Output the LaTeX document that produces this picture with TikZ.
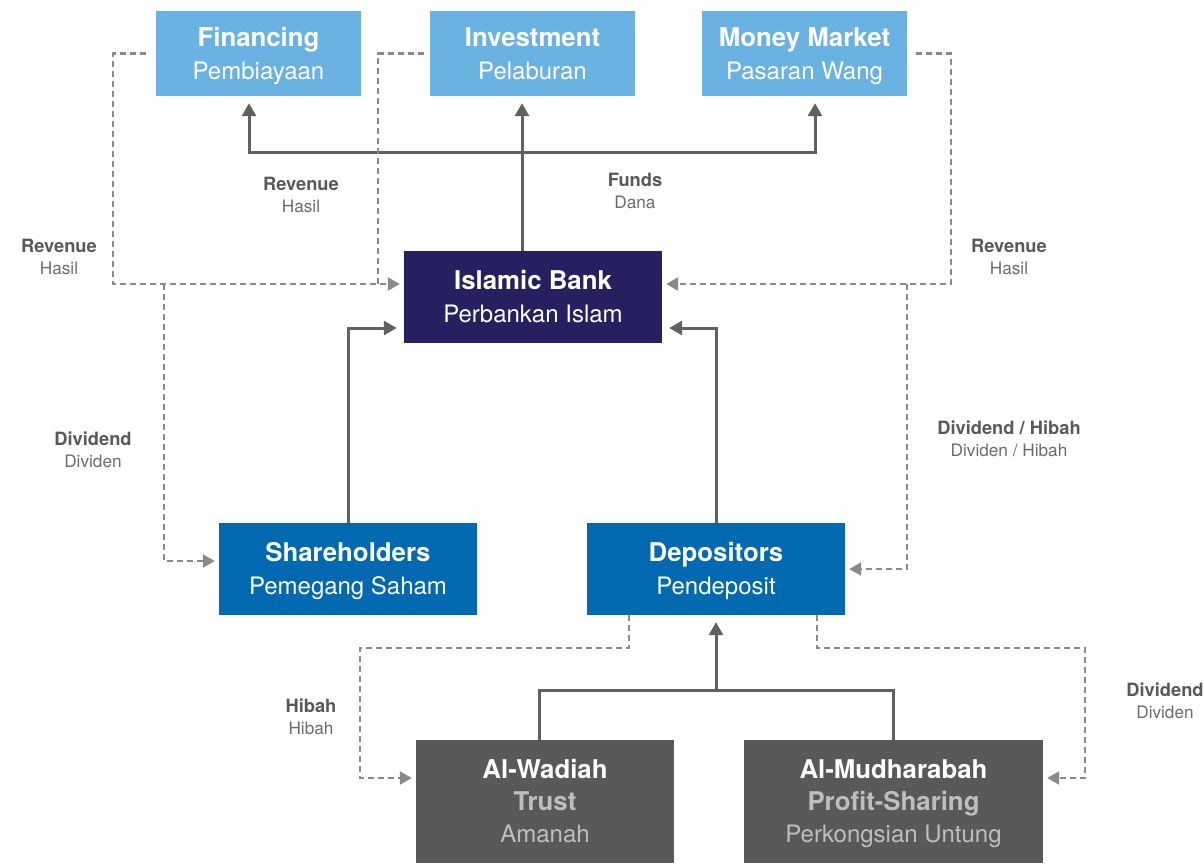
\documentclass[tikz,border=0pt]{standalone}
\usepackage{fontspec}
\setmainfont{TeX Gyre Heros}
\usetikzlibrary{arrows.meta}
\definecolor{lblue}{HTML}{6AB2E1}
\definecolor{navy}{HTML}{272060}
\definecolor{mblue}{HTML}{0069B0}
\definecolor{dgray}{HTML}{58595B}
\definecolor{lgtxt}{HTML}{BDBEC0}
\definecolor{arrgray}{HTML}{616161}
\definecolor{dashgray}{HTML}{8A8A8A}
\definecolor{lblA}{HTML}{595959}
\definecolor{lblB}{HTML}{6B6B6B}
\newcommand{\topstrut}{\rule{0pt}{24pt}}
\newcommand{\botstrut}{\rule[-6pt]{0pt}{6pt}}
\newcommand{\bt}[1]{{\fontsize{25.8}{33}\selectfont\bfseries #1}}
\tikzset{
  x=1pt, y=-1pt,
  boxbase/.style={rectangle, inner sep=0pt, align=center, text=white,
    font=\fontsize{24}{33}\selectfont},
  topbox/.style={boxbase, fill=lblue, minimum width=205pt, minimum height=85pt},
  midbox/.style={boxbase, minimum width=258pt, minimum height=92pt},
  graybox/.style={boxbase, fill=dgray, minimum height=123pt, font=\fontsize{24}{32}\selectfont},
  flow/.style={draw=arrgray, line width=3pt, -{Triangle[length=13pt,width=14pt]}, shorten >=7pt},
  flowline/.style={draw=arrgray, line width=3pt},
  dflow/.style={draw=dashgray, line width=2.5pt, dash pattern=on 6pt off 4pt, -{Triangle[length=12pt,width=13pt]}, shorten >=4pt},
  dline/.style={draw=dashgray, line width=2.5pt, dash pattern=on 6pt off 4pt},
  lbl/.style={align=center, inner sep=0pt, font=\fontsize{17.2}{22.5}\selectfont, text=lblB}
}
\newcommand{\lb}[2]{{\color{lblA}\fontsize{18.3}{22.5}\selectfont\bfseries #1}\\#2}
\begin{document}
\begin{tikzpicture}
\useasboundingbox (0,0) rectangle (1204,863);
% boxes
\node[topbox] (fin) at (258.5,53.5) {\topstrut\bt{Financing}\\Pembiayaan\botstrut};
\node[topbox] (inv) at (532.5,53.5) {\topstrut\bt{Investment}\\Pelaburan\botstrut};
\node[topbox] (mm) at (804.5,53.5) {\topstrut\bt{Money Market}\\Pasaran Wang\botstrut};
\node[midbox, fill=navy] (bank) at (533,297) {\topstrut\bt{Islamic Bank}\\Perbankan Islam\botstrut};
\node[midbox, fill=mblue] (sh) at (348,569) {\topstrut\bt{Shareholders}\\Pemegang Saham\botstrut};
\node[midbox, fill=mblue] (dep) at (716,569) {\topstrut\bt{Depositors}\\Pendeposit\botstrut};
\node[graybox, minimum width=258pt] (wad) at (545,801.5) {\topstrut\bt{Al-Wadiah}\\{\color{lgtxt}\bt{Trust}}\\{\color{lgtxt}Amanah}\botstrut};
\node[graybox, minimum width=299pt] (mud) at (893.5,801.5) {\topstrut\bt{Al-Mudharabah}\\{\color{lgtxt}\bt{Profit-Sharing}}\\{\color{lgtxt}Perkongsian Untung}\botstrut};
% coordinates
\coordinate (FX) at (522,152);
\coordinate (FL) at (249,152);
\coordinate (FR) at (815,152);
\coordinate (L1) at (113,284);
\coordinate (L2) at (378,284);
\coordinate (J1) at (164,284);
\coordinate (R1) at (951,284);
\coordinate (J2) at (907,284);
\coordinate (H1) at (360,648);
\coordinate (H2) at (1085,648);
\coordinate (WY) at (539,690);
\coordinate (MY) at (893.5,690);
\coordinate (DX) at (716,690);
% solid flows
\draw[flow] (bank.north -| FX) -- (inv.south -| FX);
\draw[flow] (FX) -- (FL) -- (fin.south -| FL);
\draw[flow] (FX) -- (FR) -- (mm.south -| FR);
\draw[flow] (sh.north) |- ([yshift=-31pt]bank.west);
\draw[flow] (dep.north) |- ([yshift=-31pt]bank.east);
\draw[flowline] (wad.north -| WY) -- (WY) -- (MY) -- (mud.north -| MY);
\draw[flow] (DX) -- (dep.south);
% dashed flows
\draw[dflow] ([xshift=-10pt]fin.west) -| (L1) -- (bank.west |- L1);
\draw[dline] ([xshift=-6pt]inv.west) -| (L2);
\draw[dflow] (J1) |- ([yshift=8pt]sh.west);
\draw[dflow] ([xshift=9pt]mm.east) -| (R1) -- (bank.east |- R1);
\draw[dflow] (J2) |- (dep.east);
\draw[dflow] ([xshift=-87pt]dep.south) |- (H1) |- ([yshift=23.5pt]wad.west);
\draw[dflow] ([xshift=101pt]dep.south) |- (H2) |- ([yshift=23.5pt]mud.east);
% labels
\node[lbl] (l1) at (301,195) {\lb{Revenue}{Hasil}};
\node[lbl] (l2) at (635,191) {\lb{Funds}{Dana}};
\node[lbl] (l3) at (59,257) {\lb{Revenue}{Hasil}};
\node[lbl] (l4) at (1009,257) {\lb{Revenue}{Hasil}};
\node[lbl] (l5) at (93,450) {\lb{Dividend}{Dividen}};
\node[lbl] (l6) at (1009,439) {\lb{Dividend / Hibah}{Dividen / Hibah}};
\node[lbl] (l7) at (311,717) {\lb{Hibah}{Hibah}};
\node[lbl] (l8) at (1165,701) {\lb{Dividend}{Dividen}};
\end{tikzpicture}
\end{document}
